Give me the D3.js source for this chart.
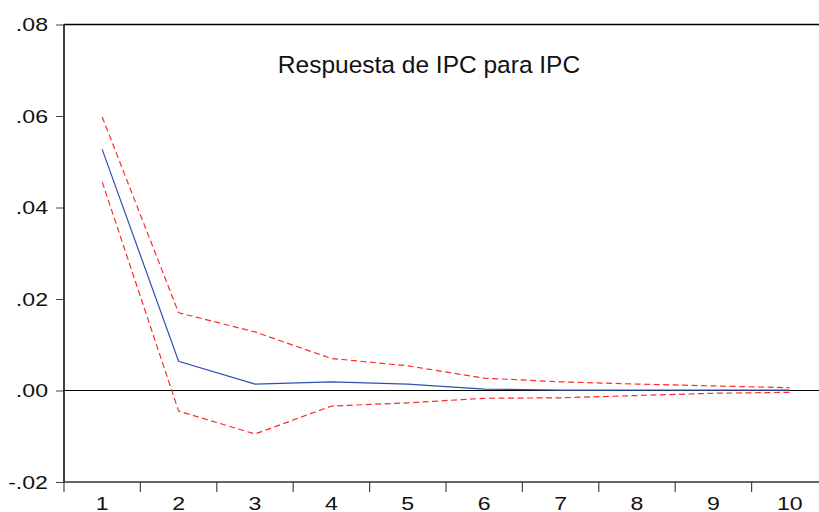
<!DOCTYPE html>
<html>
<head>
<meta charset="utf-8">
<script src="https://cdn.jsdelivr.net/npm/d3@7"></script>
<style>
  body { margin: 0; background: #fff; }
  text { font-family: Arial, "Liberation Sans", sans-serif; }
</style>
</head>
<body>
<svg id="chart"></svg>
<script>
var periods = [1, 2, 3, 4, 5, 6, 7, 8, 9, 10];
var response = [0.0527, 0.0064, 0.0014, 0.0019, 0.0014, 0.0003, 0.0001, 0.0001, 0.0001, 0.0001];
var upper = [0.0598, 0.0170, 0.0128, 0.0070, 0.0054, 0.0027, 0.0019, 0.0014, 0.0010, 0.0006];
var lower = [0.0456, -0.0045, -0.0095, -0.0034, -0.0027, -0.0017, -0.0016, -0.0011, -0.0006, -0.0004];
var yTicks = [-0.02, 0.00, 0.02, 0.04, 0.06, 0.08];
var title = "Respuesta de IPC para IPC";

var width = 819;
var height = 512;
var plotLeft = 64, plotRight = 828, plotTop = 24.5, plotBottom = 482;

var svg = d3.select("#chart")
            .attr("width", width)
            .attr("height", height);

var x = d3.scaleBand()
          .domain(periods)
          .range([plotLeft, plotRight]);

var y = d3.scaleLinear()
          .domain([-0.02, 0.08])
          .range([plotBottom, plotTop]);

var fmt = function(d)
{
  var s = d3.format(".2f")(d);
  return s.replace("\u2212", "-").replace("0.", ".");
};

// y axis
var yAxis = svg.append("g")
               .attr("transform", "translate(" + plotLeft + ",0)")
               .call(d3.axisLeft(y).tickValues(yTicks).tickSize(8).tickFormat(fmt));
yAxis.attr("font-size", null).attr("font-family", null);
yAxis.select(".domain").remove();
yAxis.selectAll("line").attr("stroke", "#444");
yAxis.selectAll("text")
     .attr("x", 0)
     .attr("dy", "0.34em")
     .attr("transform", "translate(-16,0) scale(1.25,1)")
     .style("font-size", "18.5px")
     .attr("fill", "#111");

// x axis
var xAxis = svg.append("g")
               .attr("transform", "translate(0," + plotBottom + ")")
               .call(d3.axisBottom(x).tickSize(0));
xAxis.attr("font-size", null).attr("font-family", null);
xAxis.select(".domain").remove();
xAxis.selectAll("text")
     .attr("y", 0)
     .attr("dy", null)
     .attr("transform", "translate(0,28) scale(1.25,1)")
     .style("font-size", "18.5px")
     .attr("fill", "#111");

// ticks between categories
svg.selectAll(".xtick")
   .data(periods)
   .enter()
   .append("line")
   .attr("x1", function(d) { return x(d); })
   .attr("x2", function(d) { return x(d); })
   .attr("y1", plotBottom)
   .attr("y2", plotBottom + 10)
   .attr("stroke", "#444")
   .attr("stroke-width", 1.2);

// frame
svg.append("line")
   .attr("x1", plotLeft).attr("x2", plotRight)
   .attr("y1", plotTop).attr("y2", plotTop)
   .attr("stroke", "#000").attr("stroke-width", 1.5);
svg.append("line")
   .attr("x1", plotLeft).attr("x2", plotLeft)
   .attr("y1", plotTop).attr("y2", plotBottom)
   .attr("stroke", "#000").attr("stroke-width", 1.5);
svg.append("line")
   .attr("x1", plotLeft).attr("x2", plotRight)
   .attr("y1", plotBottom).attr("y2", plotBottom)
   .attr("stroke", "#333").attr("stroke-width", 1.5);

// zero line
svg.append("line")
   .attr("x1", plotLeft).attr("x2", plotRight)
   .attr("y1", y(0)).attr("y2", y(0))
   .attr("stroke", "#000").attr("stroke-width", 1);

var line = d3.line()
             .x(function(d, i) { return x(periods[i]) + x.bandwidth() / 2; })
             .y(function(d) { return y(d); });

/*bands*/
[upper, lower].forEach(function(s)
{
  svg.append("path")
     .attr("d", line(s))
     .attr("fill", "none")
     .attr("stroke", "#ff2a2a")
     .attr("stroke-width", 1.2)
     .attr("stroke-dasharray", "6,3.5");
});

svg.append("path")
   .attr("d", line(response))
   .attr("fill", "none")
   .attr("stroke", "#2f4fb0")
   .attr("stroke-width", 1.2);

svg.append("text")
   .attr("x", 429)
   .attr("y", 73)
   .attr("text-anchor", "middle")
   .style("font-size", "24.5px")
   .attr("fill", "#111")
   .text(title);
</script>
</body>
</html>
